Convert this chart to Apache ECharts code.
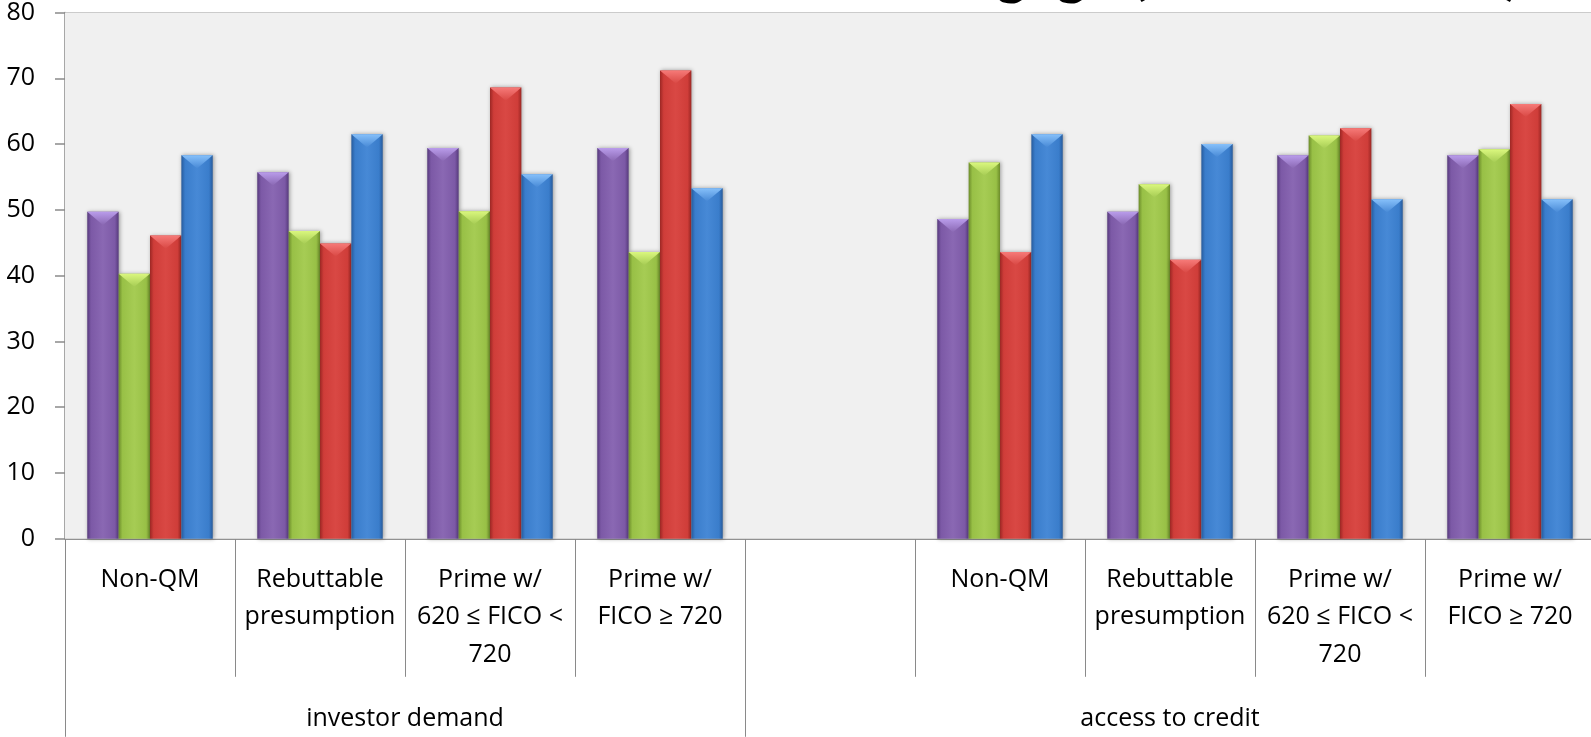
<!DOCTYPE html>
<html>
<head>
<meta charset="utf-8">
<script src="https://cdn.jsdelivr.net/npm/echarts@6/dist/echarts.min.js"></script>
<style>
  html, body { margin: 0; padding: 0; overflow: hidden; background: #ffffff; }
  #chart { width: 1595px; height: 737px; }
</style>
</head>
<body>
<div id="chart"></div>
<script>
// Category slots along the x axis (the empty slot separates the two groups)
const categories = [
  'Non-QM', 'Rebuttable\npresumption', 'Prime w/\n620 ≤ FICO <\n720', 'Prime w/\nFICO ≥ 720',
  '',
  'Non-QM', 'Rebuttable\npresumption', 'Prime w/\n620 ≤ FICO <\n720', 'Prime w/\nFICO ≥ 720'
];

// Outer grouping of the slots
const groupLabels = ['investor demand', 'access to credit'];
const groupSpans = [4, 5];

// Value axis
const yMin = 0;
const yMax = 80;
const yStep = 10;

// Series values (null = empty slot)
const seriesPurple = [49.7, 55.7, 59.4, 59.4, null, 48.6, 49.7, 58.3, 58.3];
const seriesGreen  = [40.3, 46.8, 49.8, 43.6, null, 57.2, 53.9, 61.3, 59.2];
const seriesRed    = [46.1, 44.9, 68.6, 71.2, null, 43.6, 42.4, 62.4, 66.1];
const seriesBlue   = [58.3, 61.5, 55.4, 53.3, null, 61.5, 60.0, 51.6, 51.6];

const title = 'Effects on Mortgage (% net balance)';

const palettes = [
  { edge: '#573a7d', body: '#7c59a6', light: '#8a68b3', top: '#b99cea' },
  { edge: '#6c8c2a', body: '#98c046', light: '#a6cc54', top: '#daf77e' },
  { edge: '#9c2724', body: '#cf3d39', light: '#d94844', top: '#f67a78' },
  { edge: '#275b9c', body: '#3a7dcb', light: '#4789d6', top: '#86c0fa' }
];
const seriesValues = [seriesPurple, seriesGreen, seriesRed, seriesBlue];

// Group boundaries and centres in slot units
const groupEdges = [0];
groupSpans.forEach(s => groupEdges.push(groupEdges[groupEdges.length - 1] + s));
const groupCenters = groupSpans.map((s, i) => groupEdges[i] + s / 2);

const FONT = '"Open Sans", Lato, sans-serif';
const TITLE_FONT = 'Lato, "Open Sans", sans-serif';
const AXIS_GRAY = '#8a8a8a';

// Bar with darker side edges and a light bevelled cap
function bevelBar(pal, index, count) {
  return function (params, api) {
    const v = api.value(1);
    if (v == null || isNaN(v)) return null;
    const base = api.coord([api.value(0), 0]);
    const top = api.coord([api.value(0), v]);
    const slot = api.size([1, 0])[0];
    const bw = slot * 0.1845;
    const x0 = base[0] - (count / 2) * bw + index * bw;
    const yTop = top[1];
    const h = base[1] - yTop;
    const cap = Math.min(bw * 0.42, h);
    return {
      type: 'group',
      children: [
        {
          type: 'rect',
          shape: { x: x0, y: yTop, width: bw, height: h },
          style: {
            fill: new echarts.graphic.LinearGradient(0, 0, 1, 0, [
              { offset: 0, color: pal.edge },
              { offset: 0.12, color: pal.body },
              { offset: 0.5, color: pal.light },
              { offset: 0.88, color: pal.body },
              { offset: 1, color: pal.edge }
            ]),
            shadowBlur: 4,
            shadowOffsetX: 1,
            shadowOffsetY: 0,
            shadowColor: 'rgba(0,0,0,0.35)'
          }
        },
        {
          type: 'polygon',
          shape: { points: [[x0, yTop], [x0 + bw, yTop], [x0 + bw / 2, yTop + cap]] },
          style: {
            fill: new echarts.graphic.LinearGradient(0, 0, 0, 1, [
              { offset: 0, color: pal.top },
              { offset: 1, color: pal.light }
            ])
          }
        }
      ]
    };
  };
}

const chart = echarts.init(document.getElementById('chart'), null, { renderer: 'canvas' });

chart.setOption({
  animation: false,
  backgroundColor: '#ffffff',
  title: {
    text: title,
    right: 70,
    top: -60,
    z: 0,
    textStyle: { fontFamily: TITLE_FONT, fontWeight: 'bold', fontSize: 58, color: '#000000', lineHeight: 58 }
  },
  grid: {
    left: 65, right: 0, top: 12.4, bottom: 198.2,
    show: true, backgroundColor: '#f0f0f0', borderWidth: 0, z: 1
  },
  xAxis: [
    {
      type: 'category',
      data: categories,
      boundaryGap: true,
      axisLine: { show: true, lineStyle: { color: AXIS_GRAY, width: 1.5 } },
      axisTick: { show: true, interval: 0, length: 138, lineStyle: { color: AXIS_GRAY, width: 1 } },
      axisLabel: {
        interval: 0, margin: 22, fontFamily: FONT, fontSize: 25, lineHeight: 37.5, color: '#000000', align: 'center'
      },
      splitLine: { show: false }
    },
    {
      type: 'value',
      position: 'bottom',
      min: 0,
      max: categories.length,
      axisLine: { show: false },
      splitLine: { show: false },
      axisTick: { show: true, customValues: groupEdges, length: 198, lineStyle: { color: AXIS_GRAY, width: 1 } },
      axisLabel: {
        customValues: groupCenters,
        margin: 168,
        fontFamily: FONT, fontSize: 25, color: '#000000',
        formatter: v => groupLabels[groupCenters.indexOf(v)] || ''
      }
    }
  ],
  yAxis: {
    type: 'value',
    min: yMin, max: yMax, interval: yStep,
    axisLine: { show: true, lineStyle: { color: AXIS_GRAY, width: 1.5 } },
    axisTick: { show: true, length: 10, lineStyle: { color: AXIS_GRAY, width: 1.5 } },
    axisLabel: { margin: 30, fontFamily: FONT, fontSize: 25, color: '#000000' },
    splitLine: { show: true, lineStyle: { color: AXIS_GRAY, width: 1.5 } }
  },
  series: seriesValues.map((vals, i) => ({
    type: 'custom',
    name: 'Series ' + (i + 1),
    xAxisIndex: 0,
    yAxisIndex: 0,
    renderItem: bevelBar(palettes[i], i, seriesValues.length),
    encode: { x: 0, y: 1 },
    data: vals.map((v, k) => [k, v]).filter(d => d[1] != null)
  }))
});
</script>
</body>
</html>
